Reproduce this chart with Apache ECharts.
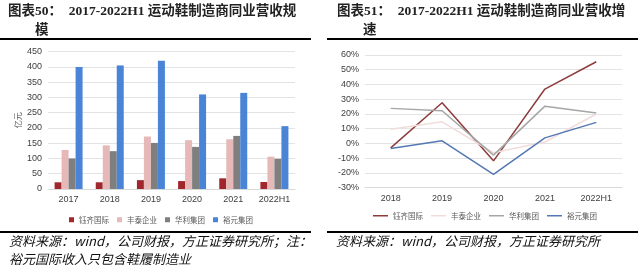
<!DOCTYPE html>
<html>
<head>
<meta charset="utf-8">
<script src="https://cdn.jsdelivr.net/npm/echarts@6/dist/echarts.min.js"></script>
<style>
html,body{margin:0;padding:0;background:#fff;}
#c{width:640px;height:269px;}
</style>
</head>
<body>
<div id="c"></div>
<script>
// ---- data ----
var seriesNames = ['钰齐国际', '丰泰企业', '华利集团', '裕元集团'];
var scaleCategories = ['2017', '2018', '2019', '2020', '2021', '2022H1'];
var yuqiRevenue = [22, 22, 29, 26, 35, 23];
var fengtaiRevenue = [128, 143, 172, 160, 163, 106];
var hualiRevenue = [100, 124, 151, 138, 174, 99];
var yueyuenRevenue = [400, 405, 420, 310, 315, 206];
var scaleTicks = { min: 0, max: 450, interval: 50 };

var growthCategories = ['2018', '2019', '2020', '2021', '2022H1'];
var yuqiGrowth = [-3, 27.6, -11.8, 36.9, 55.4];
var fengtaiGrowth = [9.7, 14.7, -6.3, 1, 20];
var hualiGrowth = [23.8, 22.2, -7.9, 25.3, 20.6];
var yueyuenGrowth = [-3.4, 1.8, -21, 3.8, 14.3];
var growthTicks = { min: -30, max: 60, interval: 10 };

var barColors = ['#A0282C', '#E6B9B8', '#7F7F7F', '#4A84D6'];
var lineColors = ['#8E3B3B', '#F2DCDB', '#A6A6A6', '#5478B4'];

var chart = echarts.init(document.getElementById('c'), null, { renderer: 'canvas' });
var axisFont = 'Liberation Sans, Arial, sans-serif';
var cjkFont = '"Noto Sans CJK SC", sans-serif';
var titleFont = '"Liberation Serif", "Noto Sans CJK SC", serif';

function barSeries(name, data, color) {
  return { name: name, type: 'bar', xAxisIndex: 0, yAxisIndex: 0, data: data,
    barWidth: 7, barGap: '0%', itemStyle: { color: color } };
}
function lineSeries(name, data, color) {
  return { name: name, type: 'line', xAxisIndex: 1, yAxisIndex: 1, data: data,
    showSymbol: false, symbol: 'none', lineStyle: { color: color, width: 1.5 },
    itemStyle: { color: color } };
}

var lineLegendData = seriesNames.map(function (n, i) {
  return { name: n, icon: 'rect', itemStyle: { color: lineColors[i] } };
});

var option = {
  animation: false,
  backgroundColor: '#fff',
  grid: [
    { left: 48, right: 345, top: 51.7, bottom: 80 },
    { left: 365, right: 18, top: 55, bottom: 81.3 }
  ],
  legend: [
    { data: seriesNames, left: 64, top: 211, itemWidth: 5, itemHeight: 5, itemGap: 8,
      icon: 'rect', textStyle: { fontSize: 7.5, color: '#595959', fontFamily: cjkFont } },
    { data: lineLegendData, left: 368, top: 207, itemWidth: 15, itemHeight: 1.5, itemGap: 8,
      textStyle: { fontSize: 7.5, color: '#595959', fontFamily: cjkFont } }
  ],
  xAxis: [
    { type: 'category', gridIndex: 0, data: scaleCategories,
      axisLine: { lineStyle: { color: '#D9D9D9' } }, axisTick: { show: false },
      axisLabel: { fontSize: 9, color: '#404040', fontFamily: axisFont, margin: 6 } },
    { type: 'category', gridIndex: 1, data: growthCategories,
      axisLine: { onZero: false, lineStyle: { color: '#D9D9D9' } }, axisTick: { show: false },
      axisLabel: { fontSize: 9, color: '#404040', fontFamily: axisFont, margin: 6 } }
  ],
  yAxis: [
    { type: 'value', gridIndex: 0, min: scaleTicks.min, max: scaleTicks.max, interval: scaleTicks.interval,
      name: '亿元', nameLocation: 'middle', nameGap: 26, nameRotate: 90,
      nameTextStyle: { fontSize: 8, color: '#595959', fontFamily: cjkFont },
      axisLine: { show: false }, axisTick: { show: false },
      splitLine: { lineStyle: { color: '#E3E3E3' } },
      axisLabel: { fontSize: 9, color: '#404040', fontFamily: axisFont, margin: 6 } },
    { type: 'value', gridIndex: 1, min: growthTicks.min, max: growthTicks.max, interval: growthTicks.interval,
      axisLine: { show: false }, axisTick: { show: false },
      splitLine: { lineStyle: { color: '#E3E3E3' } },
      axisLabel: { fontSize: 9, color: '#404040', fontFamily: axisFont, margin: 6, formatter: '{value}%' } }
  ],
  series: [
    barSeries(seriesNames[0], yuqiRevenue, barColors[0]),
    barSeries(seriesNames[1], fengtaiRevenue, barColors[1]),
    barSeries(seriesNames[2], hualiRevenue, barColors[2]),
    barSeries(seriesNames[3], yueyuenRevenue, barColors[3]),
    lineSeries(seriesNames[0], yuqiGrowth, lineColors[0]),
    lineSeries(seriesNames[1], fengtaiGrowth, lineColors[1]),
    lineSeries(seriesNames[2], hualiGrowth, lineColors[2]),
    lineSeries(seriesNames[3], yueyuenGrowth, lineColors[3])
  ],
  graphic: [
    { type: 'text', left: 8, top: 5, style: { text: '图表50：  2017-2022H1 运动鞋制造商同业营收规', font: 'bold 13.5px ' + titleFont, fill: '#222' } },
    { type: 'text', left: 35, top: 24, style: { text: '模', font: 'bold 13.5px ' + titleFont, fill: '#222' } },
    { type: 'text', left: 337, top: 5, style: { text: '图表51：  2017-2022H1 运动鞋制造商同业营收增', font: 'bold 13.5px ' + titleFont, fill: '#222' } },
    { type: 'text', left: 363, top: 24, style: { text: '速', font: 'bold 13.5px ' + titleFont, fill: '#222' } },
    { type: 'rect', shape: { x: 0, y: 38, width: 311, height: 2 }, style: { fill: '#000' } },
    { type: 'rect', shape: { x: 327, y: 38, width: 311, height: 2 }, style: { fill: '#000' } },
    { type: 'rect', shape: { x: 0, y: 231, width: 311, height: 2 }, style: { fill: '#000' } },
    { type: 'rect', shape: { x: 327, y: 231, width: 311, height: 2 }, style: { fill: '#000' } },
    { type: 'text', left: 9, top: 235, style: { text: '资料来源：wind，公司财报，方正证券研究所；注：', font: 'italic 13px ' + cjkFont, fill: '#111' } },
    { type: 'text', left: 9, top: 253, style: { text: '裕元国际收入只包含鞋履制造业', font: 'italic 13px ' + cjkFont, fill: '#111' } },
    { type: 'text', left: 336, top: 235, style: { text: '资料来源：wind，公司财报，方正证券研究所', font: 'italic 13px ' + cjkFont, fill: '#111' } }
  ]
};
chart.setOption(option);
</script>
</body>
</html>
